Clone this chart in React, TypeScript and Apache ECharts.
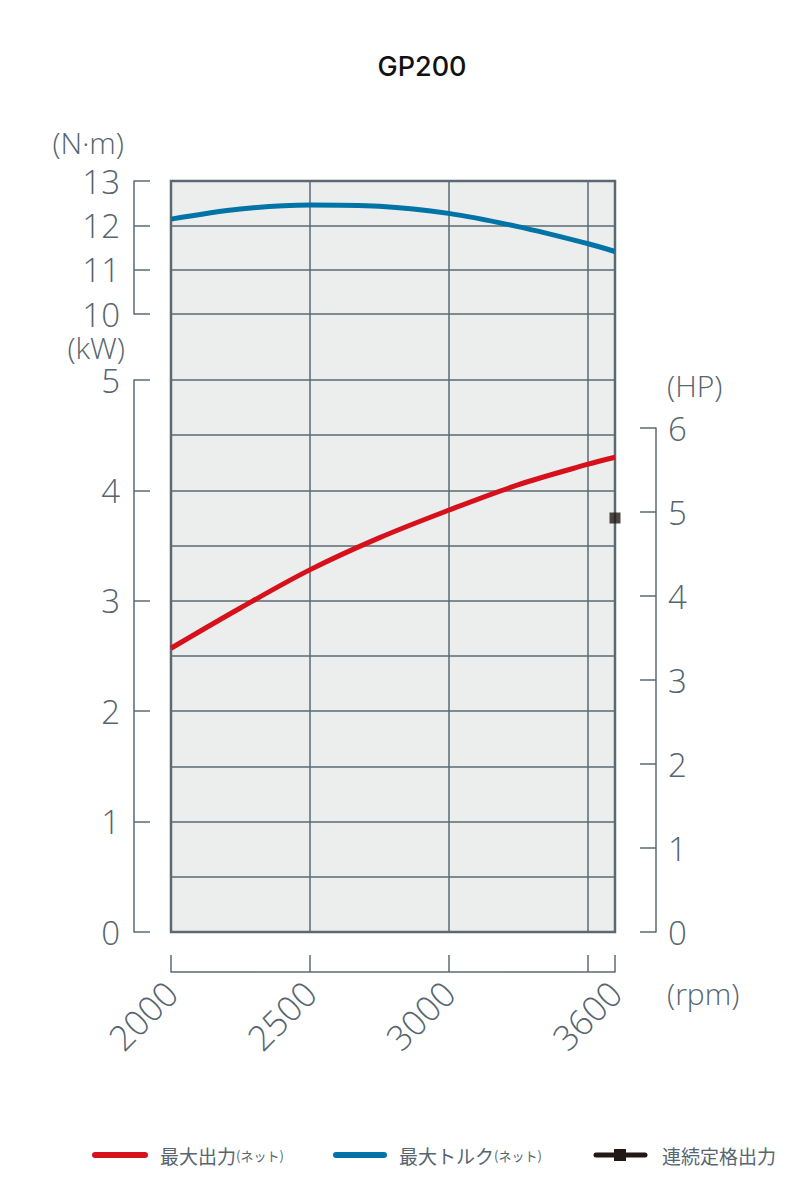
import React, { useEffect, useRef } from 'react';
import * as echarts from 'echarts';

const chartTitle = 'GP200';
const rpm = [2000, 2250, 2500, 2750, 3000, 3250, 3500, 3600];
const powerKW = [2.57, 2.935, 3.28, 3.57, 3.82, 4.05, 4.235, 4.3];
const torqueNm = [12.14, 12.37, 12.46, 12.43, 12.27, 11.97, 11.59, 11.41];
const ratedRpm = [3600];
const ratedKW = [3.75];
const rpmTickValues = [2000, 2500, 3000, 3500, 3600];
const rpmLabelValues = [2000, 2500, 3000, 3600];
const seriesNames = ['最大出力', '最大トルク', '連続定格出力'];
const legendSuffix = ['(ネット)', '(ネット)', ''];
const unitTorque = '(N·m)';
const unitPower = '(kW)';
const unitHP = '(HP)';
const unitRpm = '(rpm)';

const AX = '#5b6a73';
const TXT = '#56656f';
const RED = '#d7111c';
const BLUE = '#0073a7';
const BLACK = '#231815';
const FONT = "'Open Sans', 'Noto Sans', sans-serif";
const JFONT = "'Noto Sans CJK JP', 'Noto Sans', sans-serif";

const L = 171;
const W = 444;

const labelStyle = { color: TXT, fontSize: 33, fontFamily: FONT, fontWeight: 300 as any };
const axLine = { color: AX, width: 1.5 };
const unitStyle = { fill: TXT, fontSize: 30, fontFamily: FONT, fontWeight: 300, textVerticalAlign: 'middle', verticalAlign: 'middle' };

export default function App() {
  const ref = useRef<HTMLDivElement>(null);
  useEffect(() => {
    document.body.style.margin = '0';
    if (!ref.current) return;
    const chart = echarts.init(ref.current, null, { renderer: 'svg' });
    const option: any = {
      animation: false,
      grid: [
        { left: L, top: 181, width: W, height: 751, show: true, backgroundColor: '#eceeee', borderColor: AX, borderWidth: 2.5 },
        { left: L, top: 181, width: W, height: 133 },
        { left: L, top: 380, width: W, height: 552 },
        { left: L, top: 428, width: W, height: 504 },
      ],
      xAxis: [
        {
          gridIndex: 0, type: 'value', min: 2000, max: 3600, interval: 500,
          axisLine: { show: false }, axisTick: { show: false }, axisLabel: { show: false },
          splitLine: { show: true, lineStyle: axLine },
        },
        { gridIndex: 1, type: 'value', min: 2000, max: 3600, show: false },
        {
          gridIndex: 2, type: 'value', min: 2000, max: 3600, interval: 500, position: 'bottom', offset: 40,
          axisLine: { show: true, onZero: false, lineStyle: axLine },
          axisTick: { show: true, inside: true, length: 17, customValues: rpmTickValues, lineStyle: axLine },
          axisLabel: { ...labelStyle, fontSize: 35, customValues: rpmLabelValues, rotate: 45, margin: 15, formatter: (v: number) => String(v) },
          splitLine: { show: false },
        },
        { gridIndex: 3, type: 'value', min: 2000, max: 3600, show: false },
      ],
      yAxis: [
        { gridIndex: 0, type: 'value', min: 0, max: 1, show: false },
        {
          gridIndex: 1, type: 'value', min: 10, max: 13, interval: 1, position: 'left', offset: 37,
          axisLine: { show: true, onZero: false, lineStyle: axLine },
          axisTick: { show: true, inside: true, length: 16, lineStyle: axLine },
          axisLabel: { ...labelStyle, margin: 14 },
          splitLine: { show: true, lineStyle: axLine },
        },
        {
          gridIndex: 2, type: 'value', min: 0, max: 5, interval: 1, position: 'left', offset: 37,
          axisLine: { show: true, onZero: false, lineStyle: axLine },
          axisTick: { show: true, inside: true, length: 16, lineStyle: axLine },
          axisLabel: { ...labelStyle, margin: 14 },
          splitLine: { show: true, lineStyle: axLine },
          minorTick: { show: false, splitNumber: 2 },
          minorSplitLine: { show: true, lineStyle: axLine },
        },
        {
          gridIndex: 3, type: 'value', min: 0, max: 6, interval: 1, position: 'right', offset: 41,
          axisLine: { show: true, onZero: false, lineStyle: axLine },
          axisTick: { show: true, inside: true, length: 16, lineStyle: axLine },
          axisLabel: { ...labelStyle, margin: 12 },
          splitLine: { show: false },
        },
      ],
      series: [
        {
          name: seriesNames[0], type: 'line', xAxisIndex: 2, yAxisIndex: 2,
          data: rpm.map((r, i) => [r, powerKW[i]]),
          smooth: 0.35, showSymbol: false, z: 3,
          lineStyle: { color: RED, width: 5 }, itemStyle: { color: RED },
        },
        {
          name: seriesNames[1], type: 'line', xAxisIndex: 1, yAxisIndex: 1,
          data: rpm.map((r, i) => [r, torqueNm[i]]),
          smooth: 0.35, showSymbol: false, z: 3,
          lineStyle: { color: BLUE, width: 5 }, itemStyle: { color: BLUE },
        },
        {
          name: seriesNames[2], type: 'scatter', xAxisIndex: 2, yAxisIndex: 2,
          data: ratedRpm.map((r, i) => [r, ratedKW[i]]),
          symbol: 'rect', symbolSize: 11, z: 4,
          itemStyle: { color: BLACK },
        },
      ],
      graphic: [
        {
          type: 'text', x: 422, y: 66,
          style: { text: chartTitle, fill: '#111', font: "500 27px Inter, 'Liberation Sans', sans-serif", textAlign: 'center', textVerticalAlign: 'middle', align: 'center', verticalAlign: 'middle' },
        },
        { type: 'text', x: 124, y: 142, style: { ...unitStyle, text: unitTorque, textAlign: 'right', align: 'right' } },
        { type: 'text', x: 125, y: 347, style: { ...unitStyle, text: unitPower, textAlign: 'right', align: 'right' } },
        { type: 'text', x: 667, y: 385, style: { ...unitStyle, text: unitHP, textAlign: 'left', align: 'left' } },
        { type: 'text', x: 667, y: 993, style: { ...unitStyle, text: unitRpm, textAlign: 'left', align: 'left' } },
        // legend
        { type: 'line', shape: { x1: 95, y1: 1155, x2: 145, y2: 1155 }, style: { stroke: RED, lineWidth: 6, lineCap: 'round' } },
        { type: 'line', shape: { x1: 336, y1: 1155, x2: 384, y2: 1155 }, style: { stroke: BLUE, lineWidth: 6, lineCap: 'round' } },
        { type: 'line', shape: { x1: 596, y1: 1155, x2: 645, y2: 1155 }, style: { stroke: BLACK, lineWidth: 5, lineCap: 'round' } },
        { type: 'rect', shape: { x: 614, y: 1149, width: 12, height: 12 }, style: { fill: BLACK } },
        {
          type: 'text', x: 160, y: 1155,
          style: {
            text: `{a|${seriesNames[0]}}{b|${legendSuffix[0]}}`, textVerticalAlign: 'middle', verticalAlign: 'middle',
            rich: { a: { fontSize: 19, fontFamily: JFONT, fill: TXT, color: TXT }, b: { fontSize: 13, fontFamily: JFONT, fill: TXT, color: TXT } },
          },
        },
        {
          type: 'text', x: 399, y: 1155,
          style: {
            text: `{a|${seriesNames[1]}}{b|${legendSuffix[1]}}`, textVerticalAlign: 'middle', verticalAlign: 'middle',
            rich: { a: { fontSize: 19, fontFamily: JFONT, fill: TXT, color: TXT }, b: { fontSize: 13, fontFamily: JFONT, fill: TXT, color: TXT } },
          },
        },
        {
          type: 'text', x: 662, y: 1155,
          style: { text: seriesNames[2], fontSize: 19, fontFamily: JFONT, fill: TXT, textVerticalAlign: 'middle', verticalAlign: 'middle' },
        },
      ],
    };
    chart.setOption(option);
    return () => chart.dispose();
  }, []);
  return <div ref={ref} style={{ width: 800, height: 1200 }} />;
}
